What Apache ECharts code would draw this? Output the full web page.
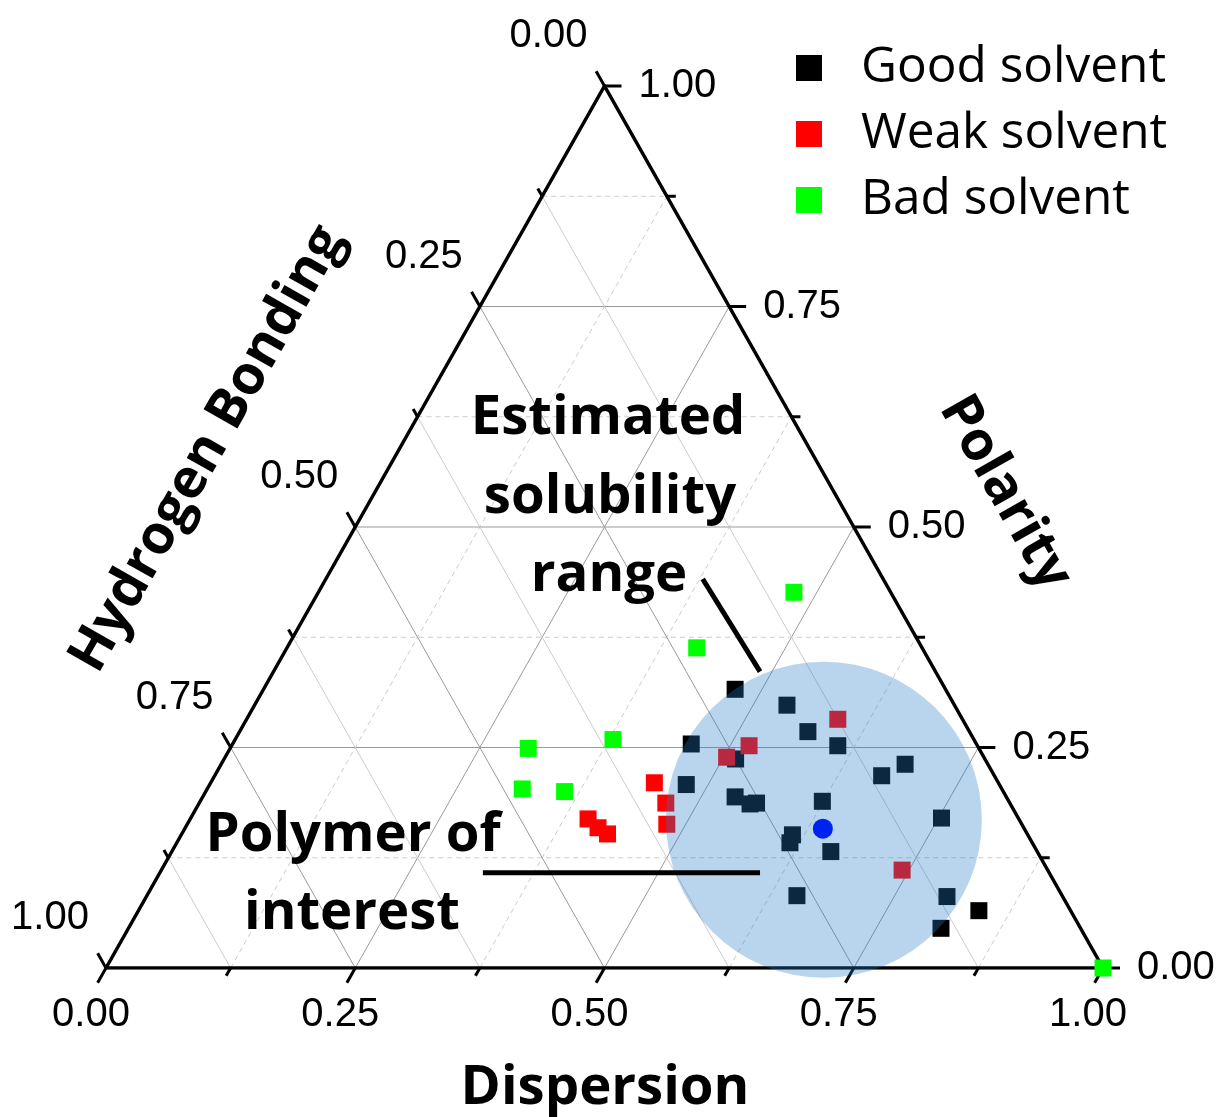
<!DOCTYPE html>
<html><head><meta charset="utf-8">
<script src="https://cdn.jsdelivr.net/npm/echarts@6/dist/echarts.min.js"></script>
<style>html,body{margin:0;padding:0;background:#fff;}#chart{width:1218px;height:1117px;}</style>
</head><body><div id="chart"></div>
<script>
// Ternary values: [Dispersion, Polarity, Hydrogen Bonding]
const goodSolvent = [
  [0.473,0.316,0.211],[0.534,0.298,0.168],[0.570,0.268,0.162],[0.608,0.252,0.140],
  [0.460,0.254,0.286],[0.513,0.237,0.250],[0.478,0.208,0.314],[0.534,0.194,0.272],
  [0.553,0.186,0.261],[0.559,0.187,0.254],[0.624,0.189,0.187],[0.669,0.218,0.113],
  [0.686,0.231,0.083],[0.753,0.170,0.077],[0.613,0.151,0.236],[0.615,0.142,0.243],
  [0.661,0.132,0.207],[0.652,0.082,0.266],[0.803,0.081,0.116],[0.843,0.065,0.092],
  [0.815,0.045,0.140]
];
const weakSolvent = [
  [0.593,0.282,0.125],[0.519,0.252,0.229],[0.503,0.239,0.258],[0.445,0.210,0.345],
  [0.468,0.187,0.345],[0.481,0.163,0.356],[0.399,0.169,0.432],[0.414,0.159,0.427],
  [0.427,0.152,0.421],[0.743,0.111,0.146]
];
const badSolvent = [
  [0.477,0.426,0.097],[0.411,0.363,0.226],[0.299,0.249,0.452],[0.379,0.259,0.362],
  [0.316,0.203,0.481],[0.360,0.200,0.440],[1.000,0.000,0.000]
];
const polymerOfInterest = [[0.640,0.158,0.202]];
const solubilityRangeCenter = [[0.636,0.168,0.196]];
const majorTicks = [0, 0.25, 0.5, 0.75, 1];
const minorTicks = [0.125, 0.375, 0.625, 0.875];
const tickLabels = ['0.00','0.25','0.50','0.75','1.00'];
const axisNames = ['Dispersion','Polarity','Hydrogen Bonding'];
// annotation pointer lines, in [Dispersion, Polarity]
const polymerPointer = [[0.324,0.108],[0.602,0.108]];
const rangePointer = [[0.378,0.441],[0.488,0.336]];

function toXY(t){ return [t[0] + t[1]/2, t[1]]; }

// grid line data: [family(0=D,1=P,2=H), value, isMajor]
const gridData = [];
[0,1,2].forEach(f=>{
  majorTicks.slice(1,4).forEach(v=>gridData.push([f,v,1]));
  minorTicks.forEach(v=>gridData.push([f,v,0]));
});
function gridSeg(f,v){
  if(f===0) return [[v,0],[v,1-v]];
  if(f===1) return [[0,v],[1-v,v]];
  return [[1-v,0],[0,1-v]];
}
// tick data: [axis(0=bottom D,1=right P,2=left H), value, isMajor, labelIndex]
const tickData = [];
[0,1,2].forEach(a=>{
  majorTicks.forEach((v,i)=>tickData.push([a,v,1,i]));
  minorTicks.forEach(v=>tickData.push([a,v,0,-1]));
});
function tickBase(a,v){
  if(a===0) return [v,0];
  if(a===1) return [1-v,v];
  return [0,1-v];
}
const tickDir = [[-0.492,0.871],[1,0],[-0.492,-0.871]];
const labelOff = [[-15,47],[34,0],[-56,-50]];
const labelAlign = ['center','left','center'];

const chart = echarts.init(document.getElementById('chart'));
const FONT = '"Open Sans", "DejaVu Sans", sans-serif';
const BOLD = 54.5;
function txt(x,y,t,rot){
  const o = {type:'text', z:100, x:x, y:y,
    style:{text:t, fontSize:BOLD, fontWeight:'bold', fontFamily:FONT, fill:'#000', align:'center', verticalAlign:'middle'}};
  if(rot) o.rotation = rot*Math.PI/180;
  return o;
}
chart.setOption({
  animation:false,
  backgroundColor:'#fff',
  grid:{left:106, right:115, top:86, bottom:149},
  xAxis:{type:'value', min:0, max:1, show:false},
  yAxis:{type:'value', min:0, max:1, show:false},
  legend:{
    data:['Good solvent','Weak solvent','Bad solvent'],
    orient:'vertical', left:791, top:38, icon:'rect',
    itemWidth:26, itemHeight:26, itemGap:16,
    textStyle:{fontFamily:FONT, fontSize:49.5, color:'#000', padding:[0,0,0,34], lineHeight:50}
  },
  series:[
    {type:'custom', z:1, silent:true, clip:false, data:gridData,
     renderItem:function(params, api){
       const f=api.value(0), v=api.value(1), major=api.value(2);
       const s=gridSeg(f,v);
       const p1=api.coord(toXY(s[0])), p2=api.coord(toXY(s[1]));
       const dashed = !major && f!==2;
       return {type:'line', shape:{x1:p1[0],y1:p1[1],x2:p2[0],y2:p2[1]},
         style:{stroke: major? '#9a9a9a' : '#cccccc', lineWidth:1, lineDash: dashed? [5,4] : null}};
     }},
    {type:'line', z:2, silent:true, symbol:'none',
     data:[[0,0],[1,0],[0,1],[0,0]].map(toXY),
     lineStyle:{color:'#000', width:3.5, join:'miter'}},
    {type:'custom', z:3, silent:true, clip:false, data:tickData,
     renderItem:function(params, api){
       const a=api.value(0), v=api.value(1), major=api.value(2), li=api.value(3);
       const b=api.coord(toXY(tickBase(a,v)));
       const len = major? 17 : 9;
       const d=tickDir[a];
       const children=[{type:'line', shape:{x1:b[0],y1:b[1],x2:b[0]+d[0]*len,y2:b[1]+d[1]*len},
         style:{stroke:'#000', lineWidth:3}}];
       if(major && li>=0){
         children.push({type:'text', x:b[0]+labelOff[a][0], y:b[1]+labelOff[a][1],
           style:{text:tickLabels[li], fontSize:40, fontFamily:'"Liberation Sans", Arial, sans-serif',
             fill:'#000', align:labelAlign[a], verticalAlign:'middle'}});
       }
       return {type:'group', children:children};
     }},
    {name:'Good solvent', type:'scatter', z:4, symbol:'rect', symbolSize:17,
     itemStyle:{color:'#000000', opacity:1}, data:goodSolvent.map(toXY)},
    {name:'Weak solvent', type:'scatter', z:4, symbol:'rect', symbolSize:17,
     itemStyle:{color:'#ff0000', opacity:1}, data:weakSolvent.map(toXY)},
    {name:'Bad solvent', type:'scatter', z:4, symbol:'rect', symbolSize:17,
     itemStyle:{color:'#00ff00', opacity:1}, data:badSolvent.map(toXY)},
    {name:'Estimated solubility range', type:'scatter', z:5, silent:true, symbol:'circle', symbolSize:316,
     itemStyle:{color:'rgba(35,125,200,0.32)', opacity:1}, data:solubilityRangeCenter.map(toXY)},
    {name:'Polymer of interest', type:'scatter', z:6, symbol:'circle', symbolSize:20,
     itemStyle:{color:'#0022ee', opacity:1}, data:polymerOfInterest.map(toXY)},
    {type:'line', z:7, silent:true, symbol:'none', data:polymerPointer.map(toXY),
     lineStyle:{color:'#000', width:5}},
    {type:'line', z:7, silent:true, symbol:'none', data:rangePointer.map(toXY),
     lineStyle:{color:'#000', width:5}}
  ],
  graphic:[
    txt(608,418,'Estimated'),
    txt(610,497,'solubility'),
    txt(609,575,'range'),
    txt(353,835,'Polymer of'),
    txt(352,913,'interest'),
    txt(605,1088,axisNames[0]),
    txt(1005,493,axisNames[1],-60.5),
    txt(208,449,axisNames[2],60.5)
  ]
});
</script></body></html>
